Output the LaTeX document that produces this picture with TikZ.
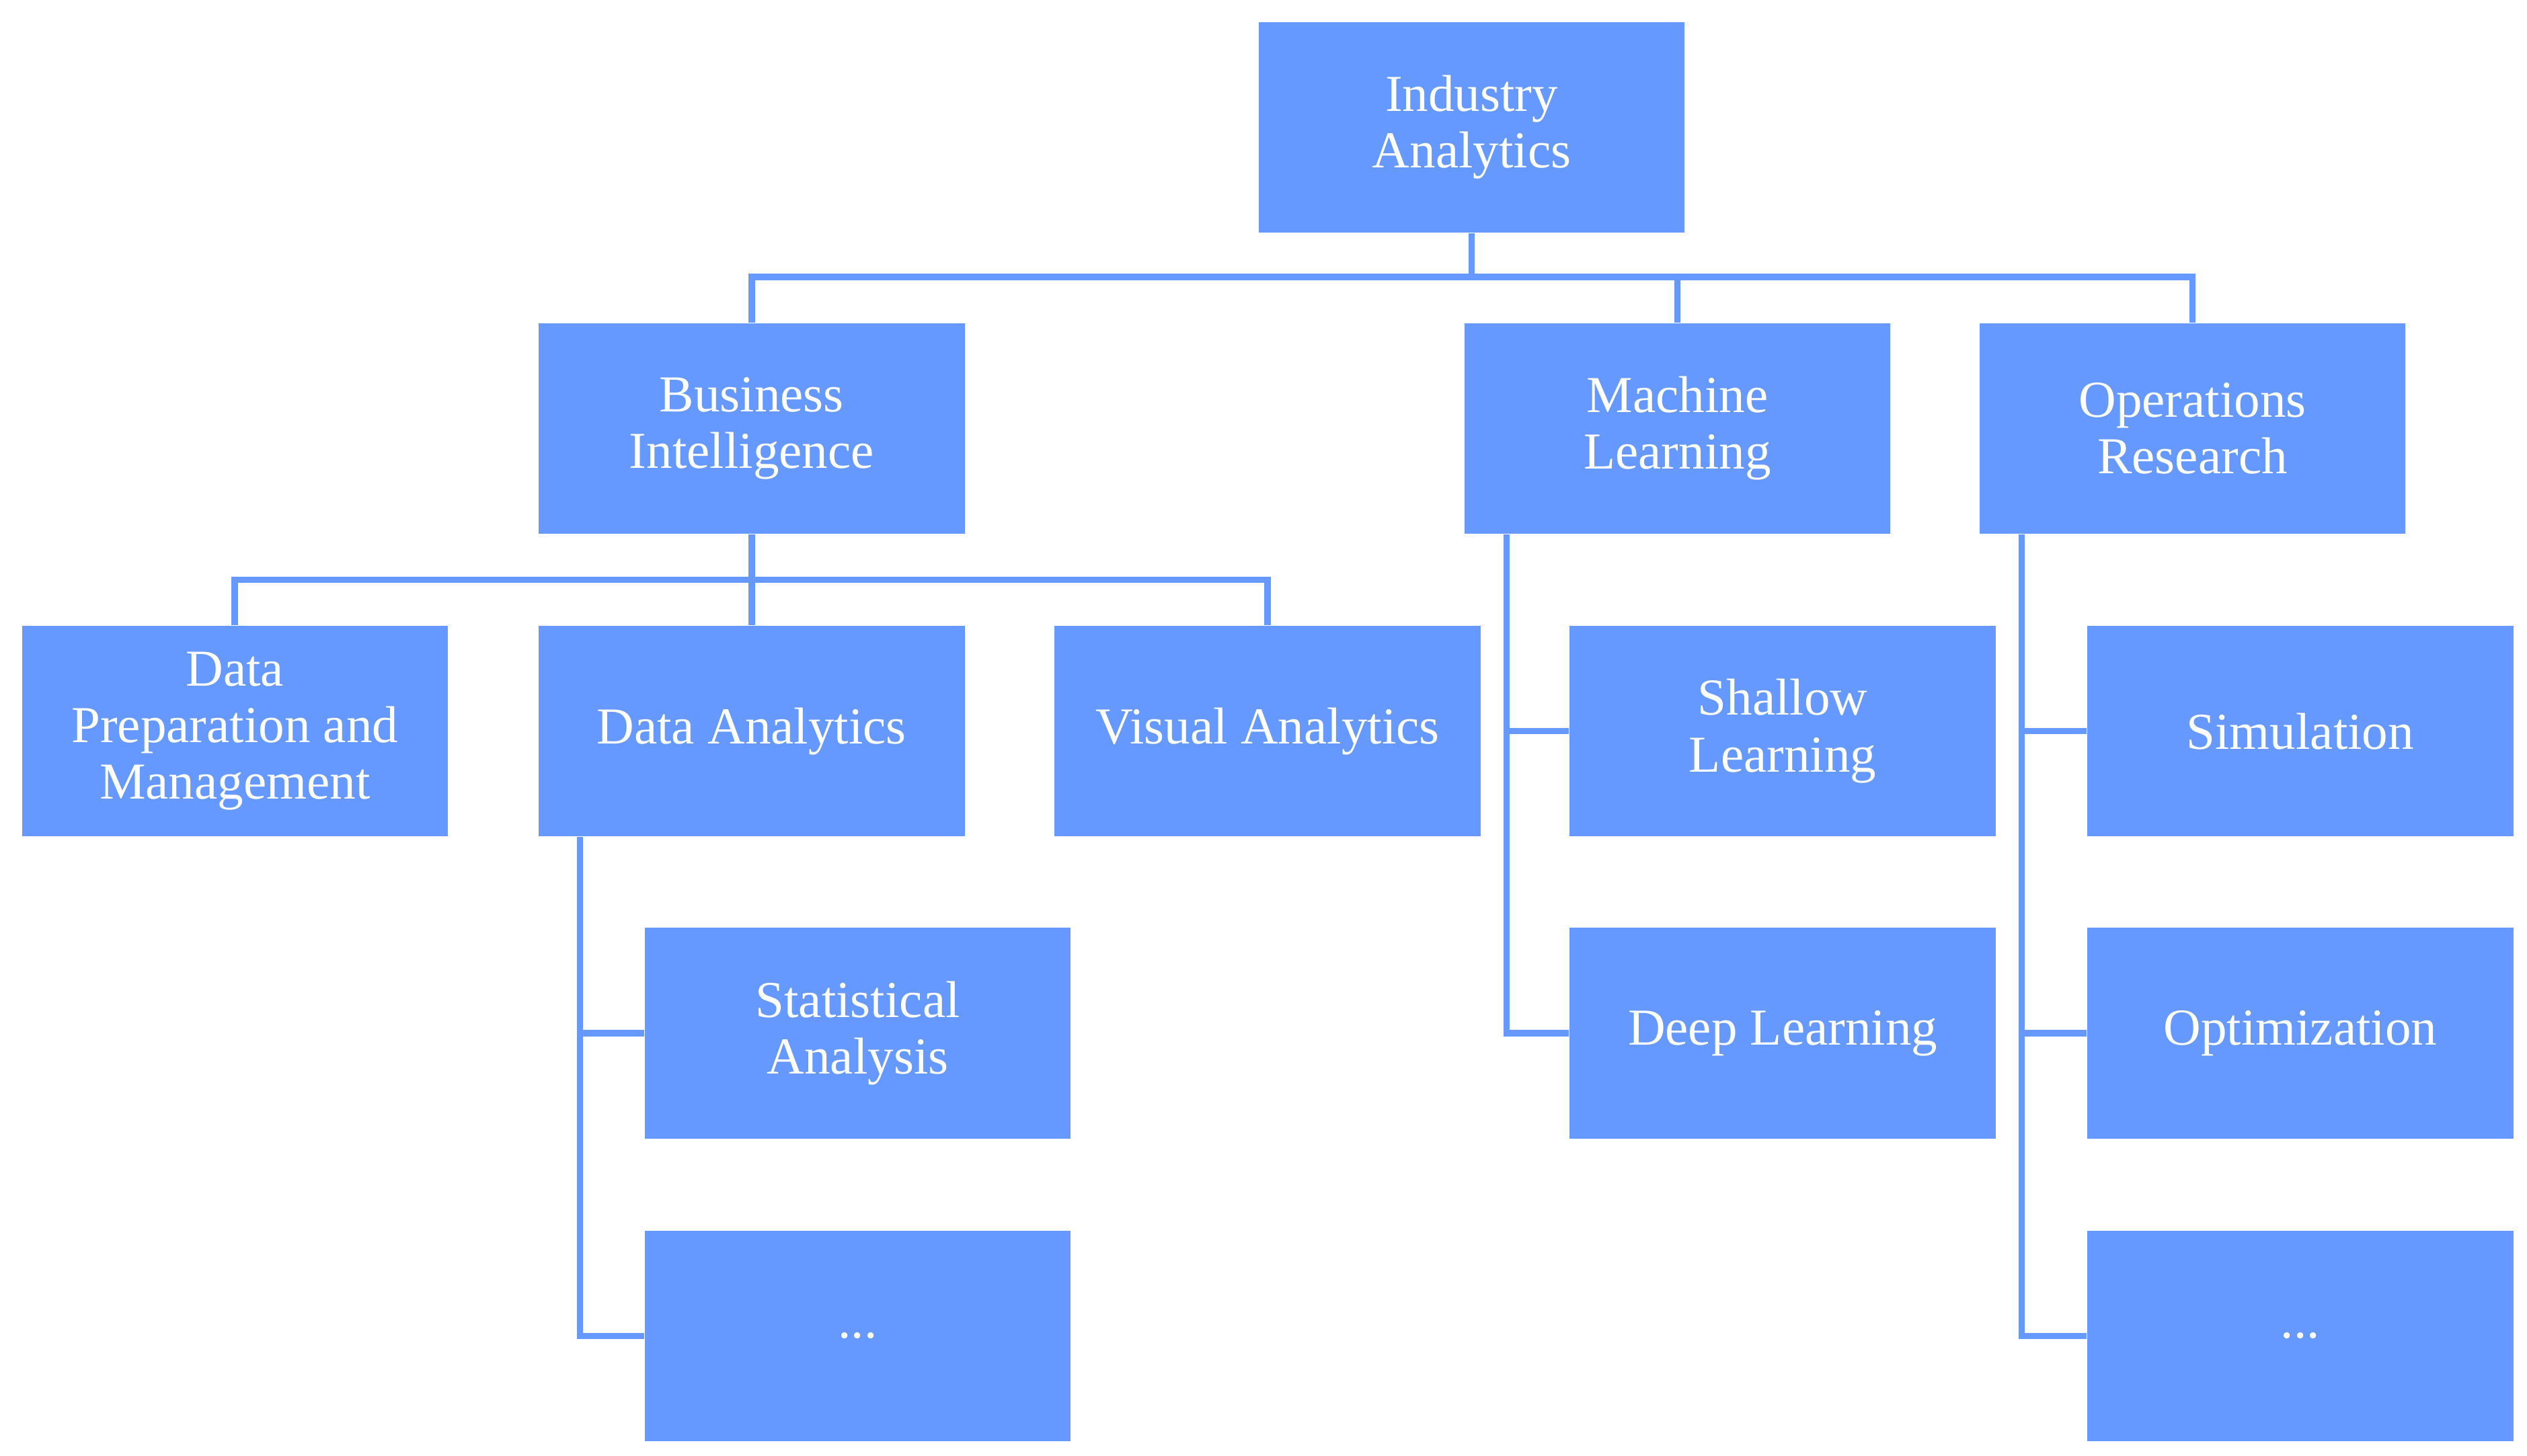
\documentclass[tikz,border=0pt]{standalone}
\usepackage{fontspec}
\setmainfont{Liberation Serif}
\definecolor{bx}{HTML}{6699FF}
\begin{document}
\begin{tikzpicture}[x=0.5pt,y=-0.5pt,
  box/.style={fill=bx,draw=none,text=white,minimum width=131.5pt,minimum height=65pt,align=center,inner sep=0pt,font=\fontsize{16}{17.5}\selectfont},
  ln/.style={draw=bx,line width=2pt}]
\useasboundingbox (0,0) rectangle (1560,899);
\node[box] (ia) at (908.5,78.5) {Industry\\Analytics};
\node[box] (bi) at (464,264.5) {Business\\Intelligence};
\node[box] (ml) at (1035.5,264.5) {Machine\\Learning};
\node[box] (or) at (1353.5,264.5) {Operations\\Research};
\node[box] (dp) at (145,451.5) {Data\\Preparation and\\Management};
\node[box] (da) at (464,451.5) {Data Analytics};
\node[box] (va) at (782.5,451.5) {Visual Analytics};
\node[box] (sl) at (1100.5,451.5) {Shallow\\Learning};
\node[box] (si) at (1420,451.5) {Simulation};
\node[box] (sa) at (529.5,638) {Statistical\\Analysis};
\node[box] (dl) at (1100.5,638) {Deep Learning};
\node[box] (op) at (1420,638) {Optimization};
\node[box] (d1) at (529.5,825) {...};
\node[box] (d2) at (1420,825) {...};
% top level
\coordinate (j1) at (908.5,171);
\draw[ln] (ia.south) -- (j1);
\draw[ln] (bi.north) |- (j1) -| (or.north);
\draw[ln] (ml.north) -- (ml.north |- j1);
% BI
\coordinate (j2) at (464,358);
\draw[ln] (bi.south) -- (j2);
\draw[ln] (dp.north) |- (j2) -| (va.north);
\draw[ln] (da.north) -- (j2);
% ML
\coordinate (m0) at (930,330);
\draw[ln] (m0) |- (dl.west);
\draw[ln] (m0 |- sl.west) -- (sl.west);
% OR
\coordinate (o0) at (1248,330);
\draw[ln] (o0) |- (d2.west);
\draw[ln] (o0 |- si.west) -- (si.west);
\draw[ln] (o0 |- op.west) -- (op.west);
% DA
\coordinate (a0) at (358,517);
\draw[ln] (a0) |- (d1.west);
\draw[ln] (a0 |- sa.west) -- (sa.west);
\end{tikzpicture}
\end{document}
